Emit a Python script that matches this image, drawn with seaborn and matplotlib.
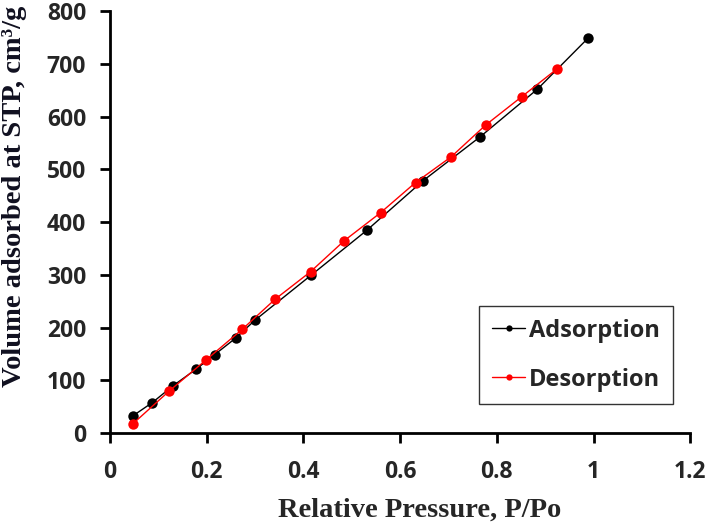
import matplotlib
matplotlib.use("Agg")
import matplotlib.pyplot as plt
import seaborn as sns
import pandas as pd

ads_p = [0.048, 0.088, 0.131, 0.178, 0.217, 0.260, 0.300, 0.417, 0.532, 0.647, 0.766, 0.884, 0.989]
ads_v = [33, 58, 90, 121, 149, 180, 214, 300, 385, 478, 562, 652, 749]

des_p = [0.048, 0.123, 0.198, 0.274, 0.342, 0.415, 0.485, 0.560, 0.632, 0.706, 0.777, 0.852, 0.924]
des_v = [18, 80, 138, 197, 254, 306, 365, 418, 475, 524, 584, 638, 690]

x_ticks = [0, 0.2, 0.4, 0.6, 0.8, 1.0, 1.2]
x_labels = ["0", "0.2", "0.4", "0.6", "0.8", "1", "1.2"]
y_ticks = [0, 100, 200, 300, 400, 500, 600, 700, 800]

ads = pd.DataFrame({"p": ads_p, "v": ads_v})
des = pd.DataFrame({"p": des_p, "v": des_v})

sns.set_style("ticks")
plt.rcParams["font.family"] = ["Open Sans", "DejaVu Sans"]

fig = plt.figure(figsize=(7.08, 5.27), dpi=100)
ax = fig.add_axes([0.155, 0.178, 0.82, 0.801])

sns.lineplot(
    data=ads, x="p", y="v", sort=False, ax=ax,
    color="black", linewidth=1, marker="o", markersize=7.5,
    markeredgewidth=0, label="Adsorption"
)
sns.lineplot(
    data=des, x="p", y="v", sort=False, ax=ax,
    color="#ff0000", linewidth=1, marker="o", markersize=7.5,
    markeredgewidth=0, label="Desorption"
)

ax.set_xlim(0, 1.2)
ax.set_ylim(0, 800)
ax.set_xticks(x_ticks)
ax.set_xticklabels(x_labels)
ax.set_yticks(y_ticks)

for label in ax.get_xticklabels() + ax.get_yticklabels():
    label.set_fontweight("bold")
    label.set_fontsize(16.5)

ax.tick_params(direction="out", length=7, width=2, color="black")
ax.tick_params(axis="x", pad=12)
ax.tick_params(axis="y", pad=10)

sns.despine(ax=ax)
for side in ["left", "bottom"]:
    ax.spines[side].set_linewidth(2)
    ax.spines[side].set_color("black")

ax.set_xlabel(
    "Relative Pressure, P/Po",
    fontsize=20.5,
    fontweight="bold",
    family="Liberation Serif"
)
ax.set_ylabel(
    "Volume adsorbed at STP, cm³/g",
    fontsize=20.5,
    fontweight="bold",
    family="Liberation Serif",
    color="#101020"
)
ax.xaxis.set_label_coords(0.534, -0.182)
ax.yaxis.set_label_coords(-0.164, 0.56)
ax.xaxis.label.set_va("center")
ax.yaxis.label.set_va("center")

leg = ax.legend(
    loc="lower right",
    bbox_to_anchor=(0.97, 0.068),
    frameon=True,
    fancybox=False,
    edgecolor="black",
    markerscale=0.6,
    handlelength=1.4,
    handletextpad=0.15,
    borderpad=0.55,
    labelspacing=1.05,
    borderaxespad=0,
    prop={"weight": "bold", "size": 17}
)
leg.get_frame().set_linewidth(1)

plt.savefig("out.png", dpi=100)
